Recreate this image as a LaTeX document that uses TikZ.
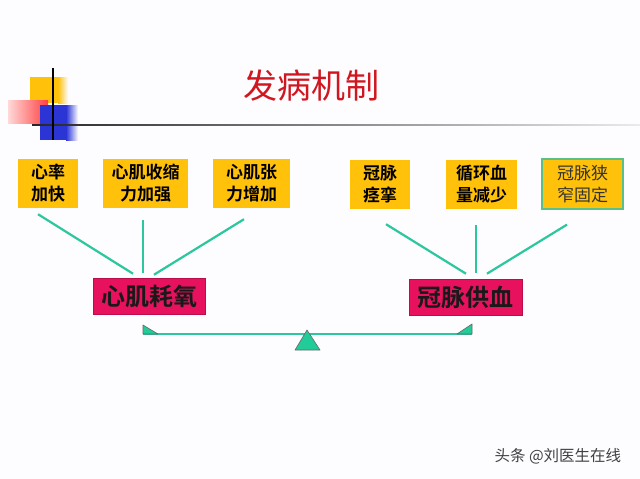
\documentclass[tikz,border=0pt]{standalone}
\usepackage{fontspec}
\newfontfamily\cjk{Noto Sans CJK SC}
\newfontfamily\cjkb{Noto Sans CJK SC Bold}
\definecolor{bgc}{HTML}{FDFCFF}
\definecolor{goldc}{HTML}{FFC10A}
\definecolor{crimc}{HTML}{E8115E}
\definecolor{tealc}{HTML}{2CC79E}
\definecolor{trifill}{HTML}{22CC99}
\definecolor{titlec}{HTML}{D0161E}
\definecolor{bluec}{HTML}{2B35D6}
\definecolor{bordc}{HTML}{5BBF8A}
\tikzset{
  ybox/.style={fill=goldc, inner sep=0pt, minimum height=49pt, align=center,
     font=\cjkb\fontsize{17}{22}\selectfont, text=black},
  pbox/.style={fill=crimc, draw=crimc!80!black, line width=0.6pt, inner sep=0pt, minimum height=36pt,
     minimum width=112pt, font=\cjkb\fontsize{24}{26}\selectfont, text=black!90},
  link/.style={draw=tealc, line width=2.2pt},
  tri/.style={fill=trifill, draw=black!60, line width=0.6pt, line join=round}
}
\begin{document}
\begin{tikzpicture}[x=1pt,y=-1pt]
\fill[bgc] (0,0) rectangle (640,479);
\useasboundingbox (0,0) rectangle (640,479);
% decoration
\fill[goldc] (30,77) rectangle (58,103);
\shade[left color=goldc, right color=bgc] (58,77) rectangle (68,103);
\shade[left color=red!15!white, right color=red!75!white] (8,100) rectangle (48,123);
\fill[bluec] (40,105) rectangle (66,140);
\shade[left color=bluec, right color=bgc] (66,105) rectangle (78,140);
\shade[left color=black!85, right color=black!8] (32,124.2) rectangle (640,125.8);
\draw[black, line width=1.2pt] (53,68) -- (53,140);
% title
\node[text=titlec, font=\cjk\fontsize{34}{38}\selectfont] (title) at (311,86) {发病机制};
% top boxes
\node[ybox, minimum width=60pt] (a1) at (48,183.5) {心率\\加快};
\node[ybox, minimum width=85pt] (a2) at (145.5,183.5) {心肌收缩\\力加强};
\node[ybox, minimum width=77pt] (a3) at (251.5,183.5) {心肌张\\力增加};
\node[ybox, minimum width=60pt] (b1) at (380,184.5) {冠脉\\痉挛};
\node[ybox, minimum width=71pt] (b2) at (481.5,184) {循环血\\量减少};
\node[ybox, minimum width=81pt, minimum height=50pt, draw=bordc, line width=1.2pt,
      font=\cjk\fontsize{17}{22}\selectfont, text=black!80] (b3) at (582.5,184) {冠脉狭\\窄固定};
% bottom boxes
\node[pbox] (L) at (149,296) {心肌耗氧};
\node[pbox, minimum width=113pt] (R) at (465.5,297.5) {冠脉供血};
% connectors
\draw[link] ([xshift=-10pt,yshift=-6pt]a1.south) -- ([xshift=-16pt,yshift=4pt]L.north);
\draw[link] ([xshift=-2.5pt,yshift=-12pt]a2.south) -- ([xshift=-6pt,yshift=5pt]L.north);
\draw[link] ([xshift=-7.5pt,yshift=-11pt]a3.south) -- ([xshift=5pt,yshift=3pt]L.north);
\draw[link] ([xshift=6pt,yshift=-15pt]b1.south) -- ([xshift=0.5pt,yshift=5.5pt]R.north);
\draw[link] ([xshift=-5.5pt,yshift=-16pt]b2.south) -- ([xshift=10.5pt,yshift=6.5pt]R.north);
\draw[link] ([xshift=-15.5pt,yshift=-15pt]b3.south) -- ([xshift=21.5pt,yshift=5.5pt]R.north);
% balance
\coordinate (bl) at (143,334);
\coordinate (br) at (472,334);
\draw[draw=tealc, line width=2.6pt] (bl) -- (br);
\draw[tri] (bl) -- ++(0,-9) -- ++(15,9) -- cycle;
\draw[tri] (br) -- ++(0,-10) -- ++(-15,10) -- cycle;
\draw[tri] (307,330) -- (320,350) -- (295,350) -- cycle;
% watermark
\node[font=\cjk\fontsize{15.5}{17}\selectfont, text=black!75, anchor=west] (wm) at (491,456) {头条 @刘医生在线};
\end{tikzpicture}
\end{document}
